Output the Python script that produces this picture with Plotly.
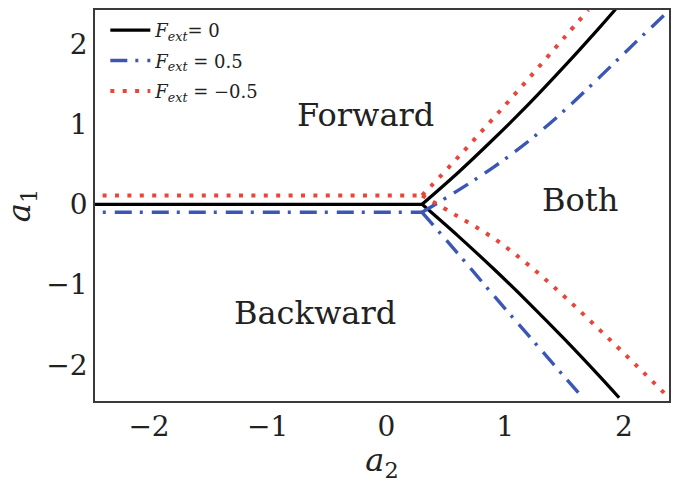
import plotly.graph_objects as go

# ---- data ----
# F_ext = 0 (black, solid)
f0_flat_a2 = [-2.6, 0.30]
f0_flat_a1 = [0.0, 0.0]
f0_up_a2 = [0.30, 0.6, 0.9, 1.2, 1.5, 1.8, 1.93]
f0_up_a1 = [0.0, 0.39, 0.81, 1.25, 1.72, 2.21, 2.43]
f0_lo_a2 = [0.30, 0.6, 0.9, 1.2, 1.5, 1.8, 1.96]
f0_lo_a1 = [0.0, -0.39, -0.80, -1.23, -1.68, -2.15, -2.41]

# F_ext = 0.5 (blue, dash-dot)
fp_flat_a2 = [-2.6, 0.30]
fp_flat_a1 = [-0.10, -0.10]
fp_up_a2 = [0.30, 0.6, 0.9, 1.2, 1.5, 1.8, 2.1, 2.4]
fp_up_a1 = [-0.10, 0.17, 0.46, 0.79, 1.17, 1.59, 2.02, 2.44]
fp_lo_a2 = [0.30, 0.6, 0.9, 1.2, 1.5, 1.66]
fp_lo_a1 = [-0.10, -0.61, -1.13, -1.64, -2.15, -2.42]

# F_ext = -0.5 (red, dotted)
fm_flat_a2 = [-2.6, 0.30]
fm_flat_a1 = [0.11, 0.11]
fm_up_a2 = [0.30, 0.6, 0.9, 1.2, 1.5, 1.70]
fm_up_a1 = [0.11, 0.58, 1.07, 1.57, 2.08, 2.42]
fm_lo_a2 = [0.30, 0.6, 0.9, 1.2, 1.5, 1.8, 2.1, 2.4]
fm_lo_a1 = [0.11, -0.15, -0.42, -0.76, -1.15, -1.57, -2.00, -2.44]

x_ticks = [-2, -1, 0, 1, 2]
y_ticks = [-2, -1, 0, 1, 2]

region_labels = ["Forward", "Both", "Backward"]
region_a2 = [-0.18, 1.63, -0.60]
region_a1 = [1.11, 0.05, -1.36]

FONT = "DejaVu Serif"


def path(flat_x, flat_y, up_x, up_y, lo_x, lo_y):
    xs = list(flat_x) + [None] + list(up_x) + [None] + list(lo_x)
    ys = list(flat_y) + [None] + list(up_y) + [None] + list(lo_y)
    return xs, ys


fig = go.Figure()

series = [
    ("<i>F<sub>ext</sub></i>= 0", f0_flat_a2, f0_flat_a1, f0_up_a2, f0_up_a1,
     f0_lo_a2, f0_lo_a1, dict(color="black", width=3.2)),
    ("<i>F<sub>ext</sub></i> = 0.5", fp_flat_a2, fp_flat_a1, fp_up_a2, fp_up_a1,
     fp_lo_a2, fp_lo_a1, dict(color="#3b56b5", width=3.4, dash="17px,8px,3px,9px")),
    ("<i>F<sub>ext</sub></i> = \u22120.5", fm_flat_a2, fm_flat_a1, fm_up_a2, fm_up_a1,
     fm_lo_a2, fm_lo_a1, dict(color="#e8463a", width=4, dash="4px,8.4px")),
]

for i, (name, fx, fy, ux, uy, lx, ly, ln) in enumerate(series):
    x, y = path(fx, fy, ux, uy, lx, ly)
    fig.add_trace(go.Scatter(x=x, y=y, mode="lines", name=name,
                             legendgroup=f"g{i}", connectgaps=False,
                             line=dict(shape="spline", smoothing=1.0, **ln)))

for txt, xa, ya in zip(region_labels, region_a2, region_a1):
    fig.add_annotation(x=xa, y=ya, text=txt, showarrow=False,
                       font=dict(family=FONT, size=32, color="#222"))

axis_common = dict(showgrid=False, zeroline=False, showline=True, mirror=True,
                   linecolor="#3a3a3a", linewidth=1.6, ticks="",
                   automargin=False,
                   tickfont=dict(family=FONT, size=28, color="#222"))

fig.update_layout(
    width=677, height=483,
    margin=dict(l=95, r=8, t=10, b=82),
    paper_bgcolor="white", plot_bgcolor="white",
    showlegend=True,
    legend=dict(x=0.018, y=0.995, xanchor="left", yanchor="top",
                bgcolor="rgba(0,0,0,0)", borderwidth=0,
                font=dict(family=FONT, size=18, color="#222"),
                itemwidth=40,
                traceorder="grouped", tracegroupgap=4),
    xaxis=dict(range=[-2.455, 2.38], tickvals=x_ticks,
               title=dict(text="<i>a</i><sub>2</sub>",
                          font=dict(family=FONT, size=32, color="#222"),
                          standoff=11),
               **axis_common),
    yaxis=dict(range=[-2.45, 2.42], tickvals=y_ticks,
               title=dict(text="<i>a</i><sub>1</sub>",
                          font=dict(family=FONT, size=32, color="#222"),
                          standoff=18),
               **axis_common),
)

fig.write_html("out.html")
